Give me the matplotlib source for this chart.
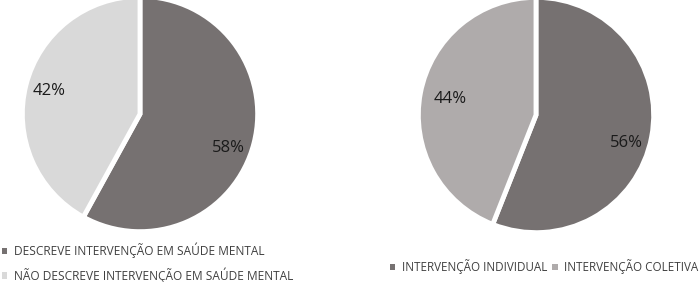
import matplotlib.pyplot as plt
from matplotlib.patches import Patch

plt.rcParams["font.family"] = ["Open Sans", "DejaVu Sans"]

labels_1 = ["DESCREVE INTERVENÇÃO EM SAÚDE MENTAL", "NÃO DESCREVE INTERVENÇÃO EM SAÚDE MENTAL"]
values_1 = [58, 42]
colors_1 = ["#767171", "#d9d9d9"]

labels_2 = ["INTERVENÇÃO INDIVIDUAL", "INTERVENÇÃO COLETIVA"]
values_2 = [56, 44]
colors_2 = ["#767171", "#afabab"]

W, H = 700, 282
fig = plt.figure(figsize=(W / 100, H / 100), dpi=100)


def pie_axes(cx, cy, r):
    return fig.add_axes([(cx - r) / W, (H - cy - r) / H, 2 * r / W, 2 * r / H])


def draw_pie(ax, values, colors, nudges):
    _, _, autotexts = ax.pie(
        values, colors=colors, startangle=90, counterclock=False,
        autopct="%d%%", pctdistance=0.8,
        wedgeprops=dict(edgecolor="white", linewidth=3.5),
        textprops=dict(fontsize=12, color="#1a1a1a"),
    )
    for t, (dx, dy) in zip(autotexts, nudges):
        x, y = t.get_position()
        t.set_position((x + dx, y + dy))
    ax.set_xlim(-1.02, 1.02)
    ax.set_ylim(-1.02, 1.02)
    ax.set_aspect("equal")


ax1 = pie_axes(140, 114, 120)
draw_pie(ax1, values_1, colors_1, [(-0.02, -0.09), (0.0, 0.0)])
ax2 = pie_axes(536, 115, 120)
draw_pie(ax2, values_2, colors_2, [(-0.02, -0.09), (0.06, -0.01)])

leg_kw = dict(frameon=False, handlelength=0.45, handleheight=0.45,
              handletextpad=0.55, labelcolor="#404040", borderpad=0, borderaxespad=0)

h1 = [Patch(facecolor=c, edgecolor="none") for c in colors_1]
h2 = [Patch(facecolor=c, edgecolor="none") for c in colors_2]

fig.legend(h1, labels_1, loc="upper left", bbox_to_anchor=(2 / W, 1 - 243 / H),
           labelspacing=0.75, fontsize=8.6, **leg_kw)
fig.legend(h2, labels_2, loc="upper left", bbox_to_anchor=(390 / W, 1 - 259 / H),
           ncol=2, columnspacing=0.45, fontsize=8.4, **leg_kw)

plt.savefig("out.png", dpi=100)
